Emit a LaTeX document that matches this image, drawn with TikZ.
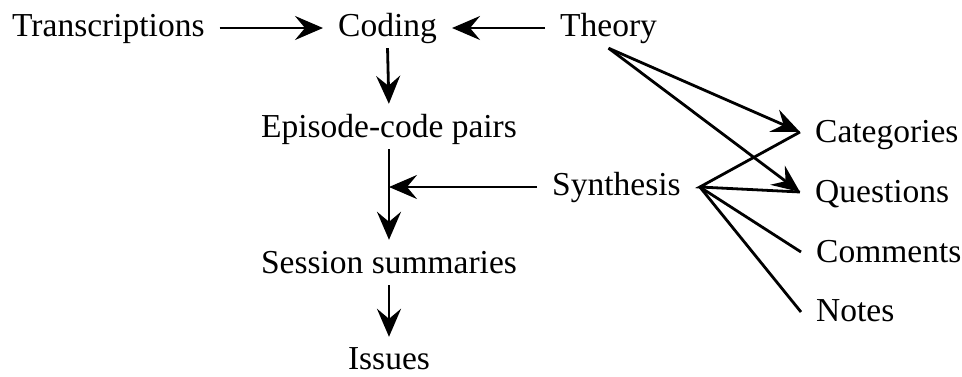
\documentclass[tikz,border=0pt]{standalone}
\usepackage{fontspec}
\setmainfont{Liberation Serif}
\usetikzlibrary{arrows.meta}
\begin{document}
\begin{tikzpicture}[x=1pt,y=-1pt,
  lbl/.style={inner xsep=15pt, inner ysep=5pt, text height=23pt, text depth=7pt, font=\fontsize{33.5}{40}\selectfont},
  conn/.style={line width=2.8pt},
  arr/.style={conn, -{Stealth[length=28pt,width=24pt,inset=10pt]}}]
\useasboundingbox (0,0) rectangle (962,376);
\node[lbl, anchor=base west] (trans) at (-3,36) {Transcriptions};
\node[lbl, anchor=base west] (coding) at (323,36) {Coding};
\node[lbl, anchor=base west] (theory) at (545,36) {Theory};
\node[lbl, anchor=base] (episode) at (389,137) {Episode-code pairs};
\node[lbl, anchor=base west] (syn) at (537,195) {Synthesis};
\node[lbl, anchor=base] (session) at (389,273) {Session summaries};
\node[lbl, anchor=base] (issues) at (389,369) {Issues};
\node[lbl, anchor=base west] (cat) at (800,142) {Categories};
\node[lbl, anchor=base west] (ques) at (800,202) {Questions};
\node[lbl, anchor=base west] (comm) at (801,262) {Comments};
\node[lbl, anchor=base west] (notes) at (801,321) {Notes};
\draw[arr] (trans.east) -- (coding.west);
\draw[arr] (theory.west) -- (coding.east);
\draw[arr, shorten >=5pt] (coding.south) -- (episode.north);
\draw[arr, shorten >=5pt] (episode.south) -- (session.north);
\draw[arr, shorten >=4pt] (session.south) -- (issues.north);
\draw[arr] (syn.west) -- (syn.west -| episode.south);
\draw[arr] (theory.south) -- ([yshift=2pt]cat.west);
\draw[arr] (theory.south) -- ([yshift=2pt]ques.west);
\coordinate (v) at ([xshift=4pt]syn.east);
\draw[conn] ([yshift=2pt]cat.west) -- (v) -- ([yshift=2pt]ques.west);
\draw[conn] (v) -- ([yshift=2pt]comm.west);
\draw[conn] (v) -- ([yshift=1pt]notes.west);
\end{tikzpicture}
\end{document}
